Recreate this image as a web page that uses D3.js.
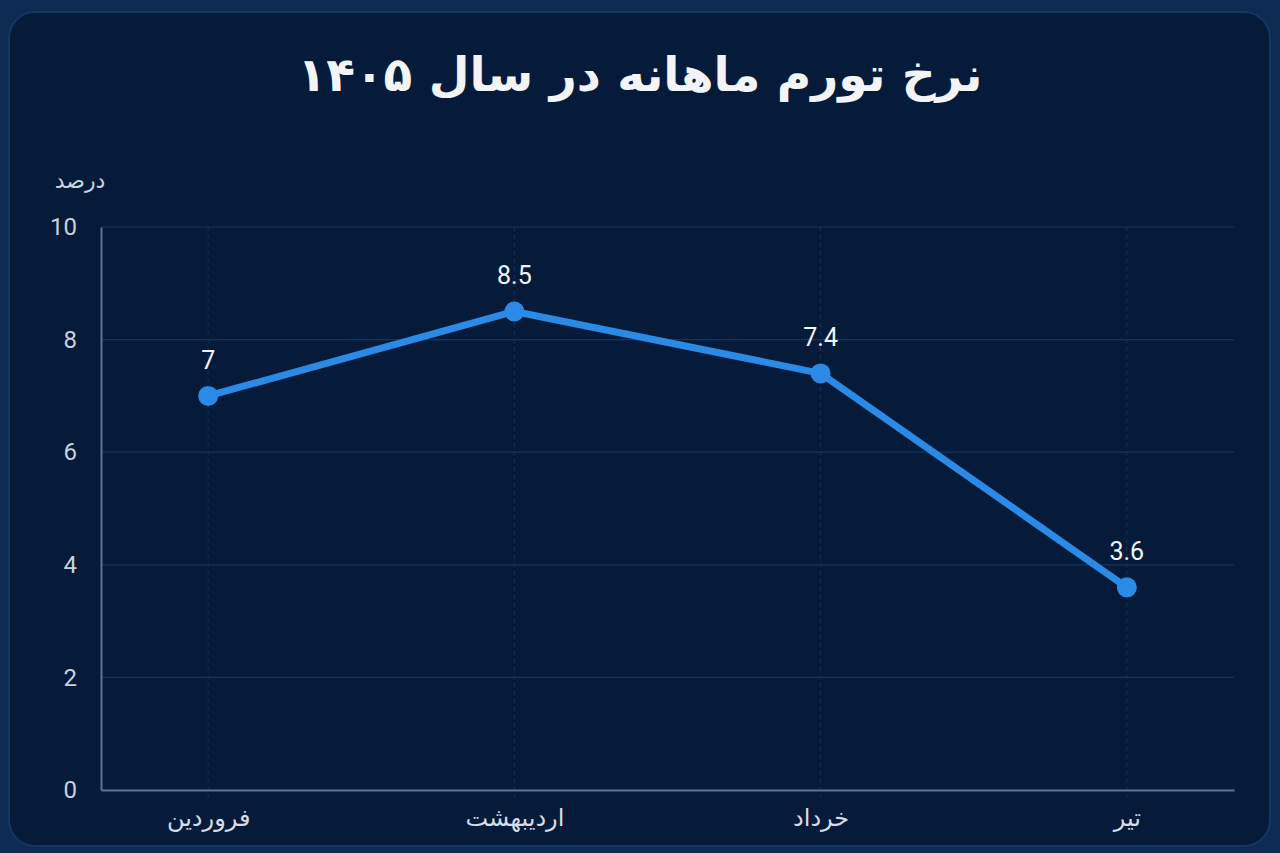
<!DOCTYPE html>
<html lang="fa">
<head>
<meta charset="utf-8">
<script src="https://cdn.jsdelivr.net/npm/d3@7"></script>
<style>
  html, body { margin: 0; padding: 0; background: #0c2a52; }
  #chart { width: 1280px; height: 853px; }
  text { font-family: Roboto, "DejaVu Sans", sans-serif; }
</style>
</head>
<body>
<div id="chart"></div>
<script>
const title = "نرخ تورم ماهانه در سال ۱۴۰۵";
const yTitle = "درصد";
const months = ["فروردین", "اردیبهشت", "خرداد", "تیر"];
const inflation = [7, 8.5, 7.4, 3.6];
const yTicks = [0, 2, 4, 6, 8, 10];

const width = 1280;
const height = 853;
const margin = { top: 227, right: 46, bottom: 63, left: 101 };

const svg = d3.select("#chart")
              .append("svg")
              .attr("width", width)
              .attr("height", height)
              .attr("viewBox", `0 0 ${width} ${height}`);

// card
svg.append("rect")
   .attr("x", 9)
   .attr("y", 12)
   .attr("width", 1261)
   .attr("height", 834)
   .attr("rx", 26)
   .attr("fill", "#061b3a")
   .attr("stroke", "#15365f")
   .attr("stroke-width", 2);

svg.append("text")
   .attr("x", width / 2)
   .attr("y", 91)
   .attr("text-anchor", "middle")
   .attr("direction", "rtl")
   .attr("fill", "#f2f4f8")
   .attr("font-size", 47)
   .attr("font-weight", "bold")
   .style("font-family", "'DejaVu Sans', sans-serif")
   .text(title);

const x = d3.scalePoint()
            .domain(months)
            .range([margin.left, width - margin.right])
            .padding(0.35);

const y = d3.scaleLinear()
            .domain([0, 10])
            .range([height - margin.bottom, margin.top]);

// grid
svg.append("g")
   .selectAll("line")
   .data(yTicks)
   .enter()
   .append("line")
   .attr("x1", margin.left)
   .attr("x2", width - margin.right)
   .attr("y1", d => y(d))
   .attr("y2", d => y(d))
   .attr("stroke", "#17355c")
   .attr("stroke-width", 1.2);

svg.append("g")
   .selectAll("line")
   .data(months)
   .enter()
   .append("line")
   .attr("x1", d => x(d))
   .attr("x2", d => x(d))
   .attr("y1", y(10))
   .attr("y2", y(0) + 8)
   .attr("stroke", "#15335a")
   .attr("stroke-dasharray", "4,4")
   .attr("stroke-width", 1);

// axes
const yAxis = svg.append("g")
                 .attr("transform", `translate(${margin.left},0)`)
                 .call(d3.axisLeft(y).tickValues(yTicks).tickSize(0).tickPadding(24));
yAxis.select(".domain").attr("stroke", "#5f7290").attr("stroke-width", 2);
yAxis.selectAll("text")
     .attr("fill", "#c9d1dd")
     .attr("font-size", 24)
     .style("font-family", "Roboto, sans-serif");

const xAxis = svg.append("g")
                 .attr("transform", `translate(0,${y(0)})`)
                 .call(d3.axisBottom(x).tickSize(0).tickPadding(14));
xAxis.select(".domain").attr("stroke", "#5f7290").attr("stroke-width", 2);
xAxis.selectAll("text")
     .attr("fill", "#d6dce6")
     .attr("font-size", 24)
     .attr("dy", "0.9em")
     .style("font-family", "'DejaVu Sans', sans-serif");

svg.append("text")
   .attr("x", 80)
   .attr("y", 188)
   .attr("text-anchor", "middle")
   .attr("fill", "#c9d1dd")
   .attr("font-size", 22)
   .style("font-family", "'DejaVu Sans', sans-serif")
   .text(yTitle);

// line
const line = d3.line()
               .x((d, i) => x(months[i]))
               .y(d => y(d));

svg.append("path")
   .datum(inflation)
   .attr("d", line)
   .attr("fill", "none")
   .attr("stroke", "#2a8ae6")
   .attr("stroke-width", 7)
   .attr("stroke-linejoin", "round")
   .attr("stroke-linecap", "round");

svg.append("g")
   .selectAll("circle")
   .data(inflation)
   .enter()
   .append("circle")
   .attr("cx", (d, i) => x(months[i]))
   .attr("cy", d => y(d))
   .attr("r", 10)
   .attr("fill", "#2a8ae6");

svg.append("g")
   .selectAll("text")
   .data(inflation)
   .enter()
   .append("text")
   .attr("x", (d, i) => x(months[i]))
   .attr("y", d => y(d) - 27)
   .attr("text-anchor", "middle")
   .attr("fill", "#f2f4f8")
   .attr("font-size", 25)
   .style("font-family", "Roboto, sans-serif")
   .text(d => d);
</script>
</body>
</html>
